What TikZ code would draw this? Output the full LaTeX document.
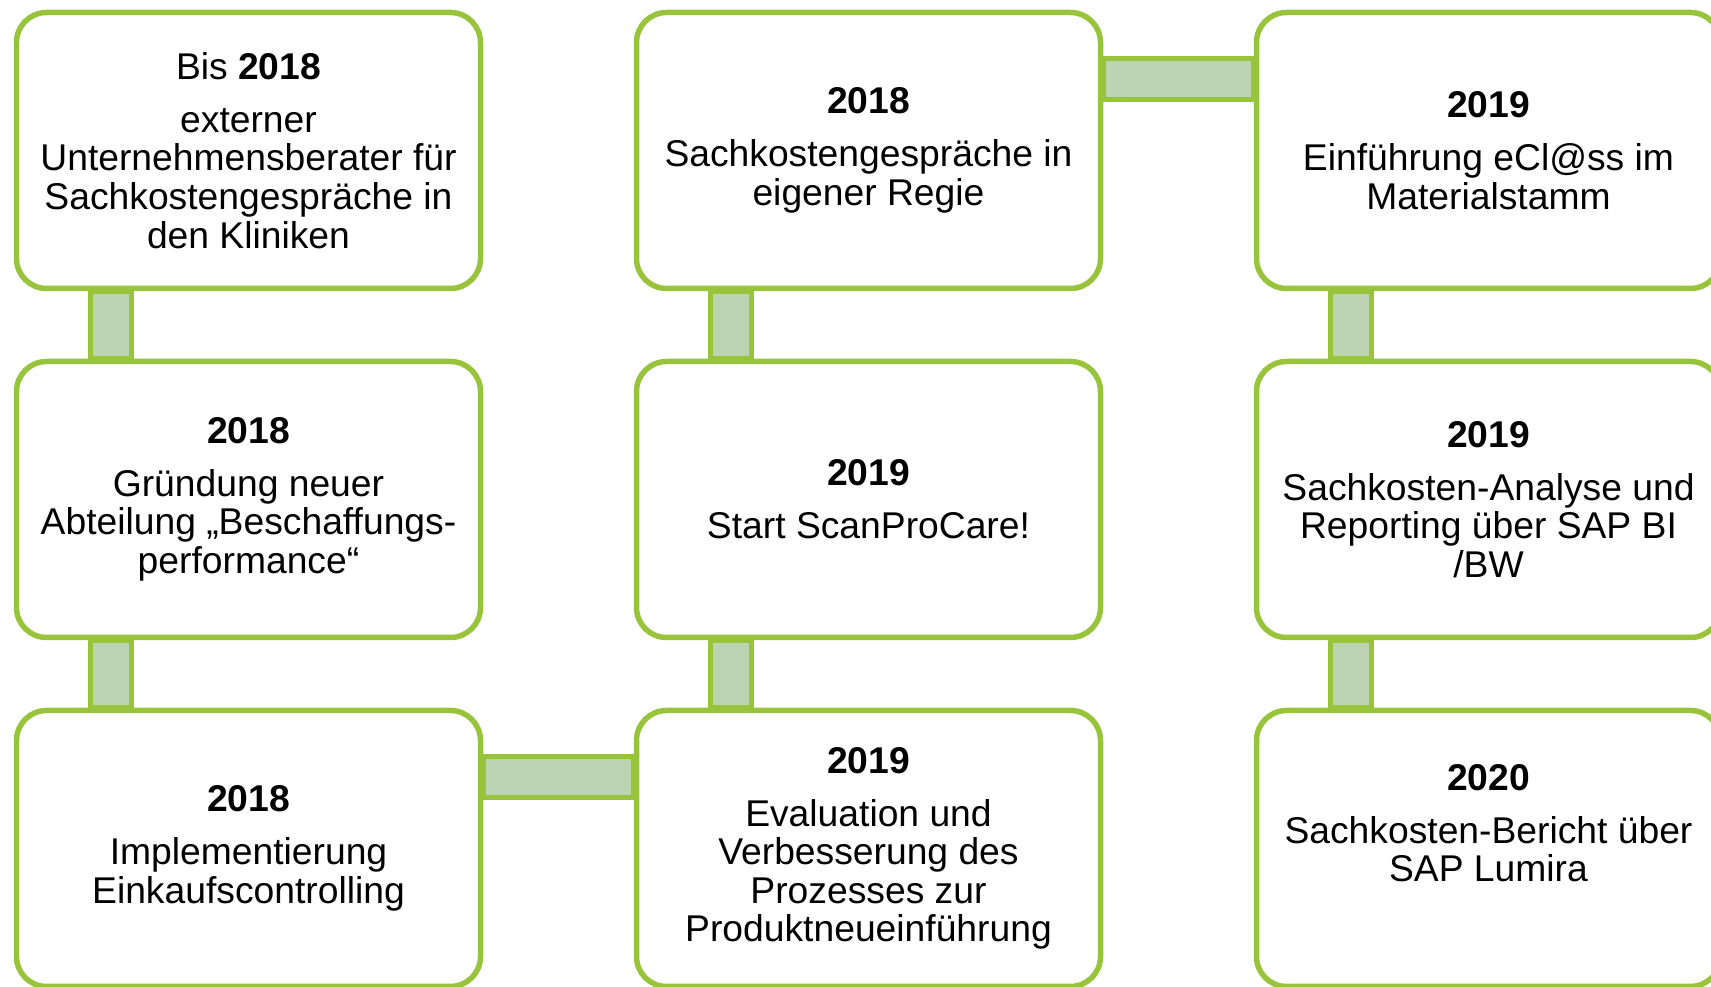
\documentclass[tikz,border=0pt]{standalone}
\usepackage{fontspec}
\setmainfont{Liberation Sans}
\usepackage{tikz}
\usetikzlibrary{shapes.geometric, arrows}
\definecolor{kgreen}{RGB}{152,196,60}
\definecolor{kbar}{RGB}{188,212,178}
\tikzstyle{box} = [draw=kgreen, line width=0.055cm, fill=white, rounded corners=0.3cm, minimum width=4.64cm, minimum height=2.76cm, inner sep=0pt, align=center, font=\fontsize{10.6pt}{11pt}\selectfont]
\tikzstyle{bar} = [draw=kgreen, line width=0.055cm, fill=kbar]

\begin{document}
\begin{tikzpicture}
        \useasboundingbox (0,0) rectangle (17.11,9.87);
        % \draw[step=1cm,gray,very thin] (0,0) grid (17,9);
        \node[box] (bis2018) at (2.485,8.365) {Bis \textbf{2018}\\[4pt]externer\\Unternehmensberater für\\Sachkostengespräche in\\den Kliniken};
        \node[box] (abteilung) at (2.485,4.875) {\textbf{2018}\\[4pt]Gründung neuer\\Abteilung „Beschaffungs-\\performance“};
        \node[box] (controlling) at (2.485,1.385) {\textbf{2018}\\[4pt]Implementierung\\Einkaufscontrolling};
        \node[box] (regie) at (8.685,8.365) {\textbf{2018}\\[4pt]Sachkostengespräche in\\eigener Regie};
        \node[box] (scanpro) at (8.685,4.875) {\textbf{2019}\\[4pt]Start ScanProCare!};
        \node[box] (evaluation) at (8.685,1.385) {\textbf{2019}\\[4pt]Evaluation und\\Verbesserung des\\Prozesses zur\\Produktneueinführung};
        \node[box] (eclass) at (14.885,8.365) {\textbf{2019}\\[4pt]Einführung eCl@ss im\\Materialstamm};
        \node[box] (bw) at (14.885,4.875) {\textbf{2019}\\[4pt]Sachkosten-Analyse und\\Reporting über SAP BI\\/BW};
        \node[box] (lumira) at (14.885,1.385) {\textbf{2020}\\[4pt]Sachkosten-Bericht über\\SAP Lumira\\[0.12cm]\mbox{}};
        \draw[bar] ([xshift=-1.58cm]bis2018.south) rectangle ([xshift=-1.17cm]abteilung.north);
        \draw[bar] ([xshift=-1.58cm]abteilung.south) rectangle ([xshift=-1.17cm]controlling.north);
        \draw[bar] ([yshift=0.92cm]controlling.east) rectangle ([yshift=0.51cm]evaluation.west);
        \draw[bar] ([xshift=-1.58cm]scanpro.south) rectangle ([xshift=-1.17cm]evaluation.north);
        \draw[bar] ([xshift=-1.58cm]regie.south) rectangle ([xshift=-1.17cm]scanpro.north);
        \draw[bar] ([yshift=0.92cm]regie.east) rectangle ([yshift=0.51cm]eclass.west);
        \draw[bar] ([xshift=-1.58cm]eclass.south) rectangle ([xshift=-1.17cm]bw.north);
        \draw[bar] ([xshift=-1.58cm]bw.south) rectangle ([xshift=-1.17cm]lumira.north);
    \end{tikzpicture}
\end{document}
